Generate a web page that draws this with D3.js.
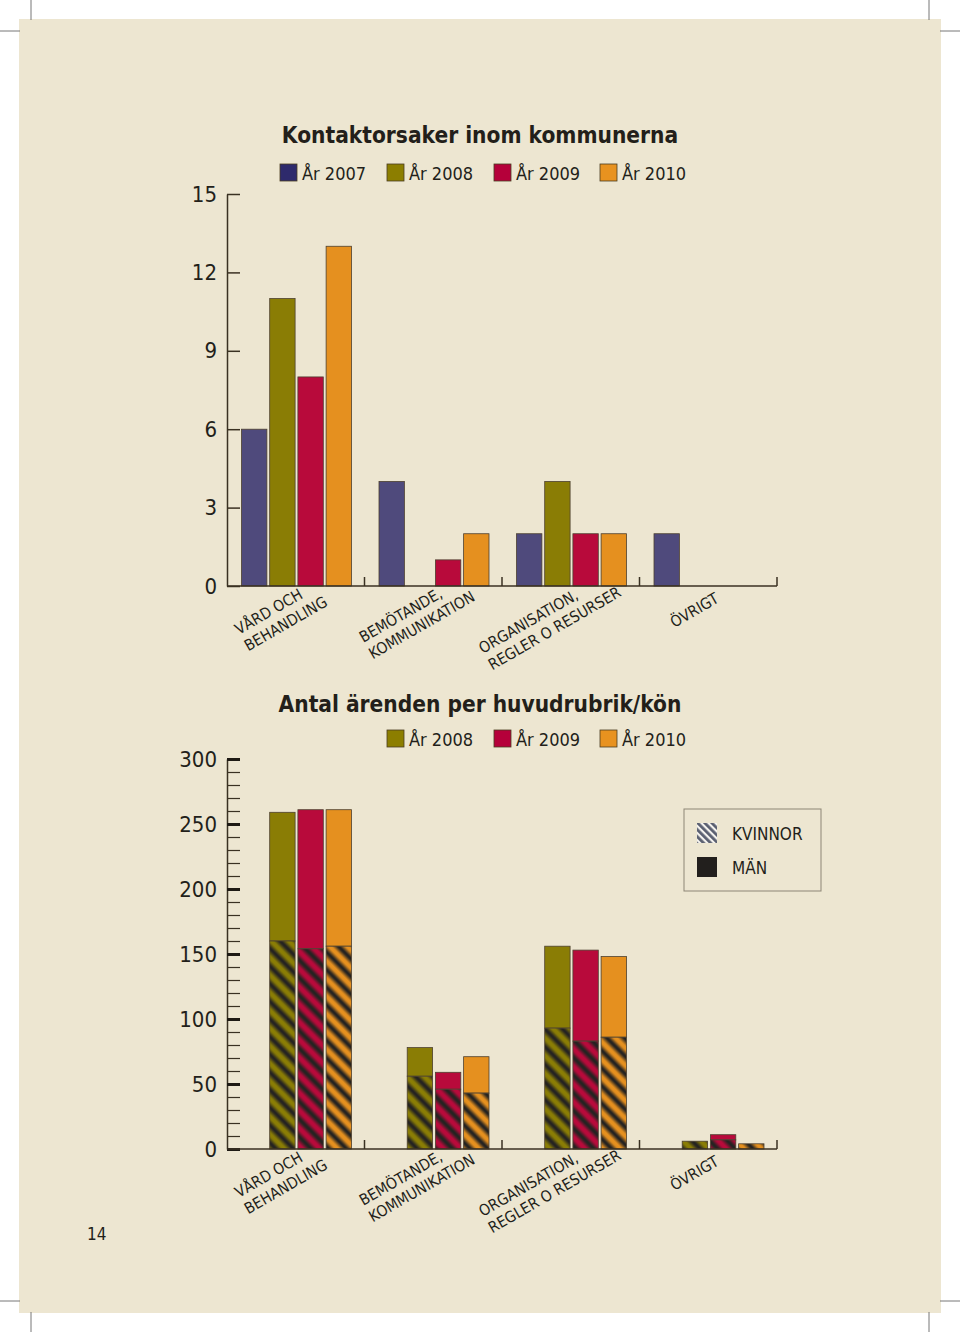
<!DOCTYPE html>
<html>
<head>
<meta charset="utf-8">
<script src="https://cdn.jsdelivr.net/npm/d3@7"></script>
<style>
  body { margin: 0; background: #fff; }
  text { font-family: "DejaVu Sans Condensed", "DejaVu Sans", sans-serif; fill: #231f1a; }
</style>
</head>
<body>
<div id="chart"></div>
<script>
// categories (line breaks as in the labels)
const categories = ["VÅRD OCH\nBEHANDLING", "BEMÖTANDE,\nKOMMUNIKATION", "ORGANISATION,\nREGLER O RESURSER", "ÖVRIGT"]
const years = ["År 2007", "År 2008", "År 2009", "År 2010"]

// Kontaktorsaker inom kommunerna
const contacts2007 = [6, 4, 2, 2]
const contacts2008 = [11, 0, 4, 0]
const contacts2009 = [8, 1, 2, 0]
const contacts2010 = [13, 2, 2, 0]
const topTicks = [0, 3, 6, 9, 12, 15]

// Antal ärenden per huvudrubrik/kön
const genderYears = ["År 2008", "År 2009", "År 2010"]
const women2008 = [160, 56, 93, 6]
const men2008 = [99, 22, 63, 0]
const women2009 = [154, 46, 83, 7]
const men2009 = [107, 13, 70, 4]
const women2010 = [156, 43, 86, 4]
const men2010 = [105, 28, 62, 0]
const bottomTicks = [0, 50, 100, 150, 200, 250, 300]
const genderLegend = ["KVINNOR", "MÄN"]

const COLORS = {"År 2007": "#4f4a7c", "År 2008": "#8a7d05", "År 2009": "#b80a3b", "År 2010": "#e5901f"}
const LEGEND_COLORS = {"År 2007": "#2e2a6c", "År 2008": "#8c7e00", "År 2009": "#b5003a", "År 2010": "#e8921f"}
const BG = "#ede6d1"
const INK = "#3a3122"
// where each rotated label starts, relative to band centre / baseline
const LABEL_OFFSET = [[-57, 49], [-70, 57], [-88, 68], [-34, 42]]

const W = 960, H = 1332
const svg = d3.select("#chart").append("svg").attr("width", W).attr("height", H)

// page + crop marks
svg.append("rect").attr("x", 19).attr("y", 19).attr("width", 922).attr("height", 1294).attr("fill", BG)
const marks = [[31, 0, 31, 20], [0, 31, 20, 31], [929, 0, 929, 20], [940, 31, 960, 31],
               [31, 1312, 31, 1332], [0, 1301, 20, 1301], [929, 1312, 929, 1332], [940, 1301, 960, 1301]]
svg.selectAll(".crop").data(marks).enter().append("line")
    .attr("x1", d => d[0]).attr("y1", d => d[1]).attr("x2", d => d[2]).attr("y2", d => d[3])
    .attr("stroke", "#777").attr("stroke-width", 1)

// hatch patterns
const defs = svg.append("defs")
Object.entries(COLORS).forEach(([yr, c], i) => {
    const gid = "grad" + i
    const g = defs.append("linearGradient").attr("id", gid)
    const dark = "#252321"
    ;[[0, c], [0.22, c], [0.55, dark], [0.68, dark], [0.9, d3.interpolateRgb(c, dark)(0.3)], [1, c]]
        .forEach(s => g.append("stop").attr("offset", s[0]).attr("stop-color", s[1]))
    defs.append("pattern").attr("id", "hatch" + i)
        .attr("patternUnits", "userSpaceOnUse").attr("width", 12.5).attr("height", 12.5)
        .attr("patternTransform", "rotate(-45)")
        .append("rect").attr("width", 12.5).attr("height", 12.5).attr("fill", `url(#${gid})`)
})
const lp = defs.append("pattern").attr("id", "hatchLegend")
    .attr("patternUnits", "userSpaceOnUse").attr("width", 5).attr("height", 5)
    .attr("patternTransform", "rotate(-45)")
lp.append("rect").attr("width", 5).attr("height", 5).attr("fill", "#f4f2ee")
lp.append("rect").attr("width", 2.8).attr("height", 5).attr("fill", "#5a5f70")

const x0 = d3.scaleBand().domain(categories).range([227, 777])
const x1 = d3.scaleBand().domain(years).range([14.5, 124.5]).paddingInner(0.1)

function title(text, y) {
    svg.append("text").attr("x", 480).attr("y", y).attr("text-anchor", "middle")
        .attr("font-size", 22.5).attr("font-weight", "bold").text(text)
}

function legend(items, xs, y) {
    const g = svg.append("g")
    items.forEach((yr, i) => {
        g.append("rect").attr("x", xs[i]).attr("y", y).attr("width", 17).attr("height", 17)
            .attr("fill", LEGEND_COLORS[yr]).attr("stroke", "#4a3c22").attr("stroke-width", 0.8)
        g.append("text").attr("x", xs[i] + 22).attr("y", y + 16).attr("font-size", 18).text(yr)
    })
}

function xAxis(base) {
    svg.append("line").attr("x1", 227).attr("x2", 777).attr("y1", base).attr("y2", base)
        .attr("stroke", INK).attr("stroke-width", 1.5)
    svg.selectAll(null).data(categories).enter().append("line")
        .attr("x1", d => x0(d) + x0.bandwidth()).attr("x2", d => x0(d) + x0.bandwidth())
        .attr("y1", base).attr("y2", base - 9).attr("stroke", INK).attr("stroke-width", 1.5)

    const lab = svg.selectAll(null).data(categories).enter().append("g")
        .attr("transform", (d, i) => `translate(${x0(d) + x0.bandwidth() / 2 + LABEL_OFFSET[i][0]},${base + LABEL_OFFSET[i][1]}) rotate(-30)`)
    lab.each(function (d) {
        d.split("\n").forEach((line, li) => {
            d3.select(this).append("text").attr("y", li * 19).attr("font-size", 15.5).text(line)
        })
    })
}

// ---------- top chart ----------
title("Kontaktorsaker inom kommunerna", 143)
legend(years, [280, 387, 494, 600], 164)

const yTop = d3.scaleLinear().domain([0, 15]).range([586, 194])
const topAxis = svg.append("g").attr("transform", "translate(227,0)")
    .call(d3.axisLeft(yTop).tickValues(topTicks).tickSize(-13).tickSizeOuter(0).tickPadding(10))
topAxis.selectAll("line, path").attr("stroke", INK).attr("stroke-width", 1.5)
topAxis.selectAll("text").attr("font-size", 22).attr("font-family", null).attr("fill", "#231f1a")

const topSeries = [contacts2007, contacts2008, contacts2009, contacts2010]
const topData = []
categories.forEach((c, ci) => years.forEach((yr, yi) => {
    if (topSeries[yi][ci] > 0) topData.push({c, yr, v: topSeries[yi][ci]})
}))
svg.selectAll(".topbar").data(topData).enter().append("rect")
    .attr("x", d => x0(d.c) + x1(d.yr))
    .attr("y", d => yTop(d.v))
    .attr("width", x1.bandwidth())
    .attr("height", d => yTop(0) - yTop(d.v))
    .attr("fill", d => COLORS[d.yr])
    .attr("stroke", "#4d4030").attr("stroke-width", 0.8)
xAxis(586)

// ---------- bottom chart ----------
title("Antal ärenden per huvudrubrik/kön", 712)
legend(genderYears, [387, 494, 600], 730)

const yBot = d3.scaleLinear().domain([0, 300]).range([1149, 759])
const minor = svg.append("g").attr("transform", "translate(227,0)")
    .call(d3.axisLeft(yBot).tickValues(d3.range(0, 301, 10)).tickSize(-13).tickSizeOuter(0).tickFormat(""))
minor.selectAll("line").attr("stroke", INK).attr("stroke-width", 1.2)
minor.select("path").attr("stroke", INK).attr("stroke-width", 1.5)
const major = svg.append("g").attr("transform", "translate(227,0)")
    .call(d3.axisLeft(yBot).tickValues(bottomTicks).tickSize(-13).tickSizeOuter(0).tickPadding(10))
major.select("path").remove()
major.selectAll("line").attr("stroke", "#1e1a14").attr("stroke-width", 3)
major.selectAll("text").attr("font-size", 22).attr("font-family", null).attr("fill", "#231f1a")

const women = [women2008, women2009, women2010]
const men = [men2008, men2009, men2010]
const botData = []
categories.forEach((c, ci) => genderYears.forEach((yr, yi) => {
    botData.push({c, yr, w: women[yi][ci], m: men[yi][ci]})
}))
const bars = svg.selectAll(".botbar").data(botData).enter().append("g")
bars.filter(d => d.m > 0).append("rect")
    .attr("x", d => x0(d.c) + x1(d.yr))
    .attr("y", d => yBot(d.w + d.m))
    .attr("width", x1.bandwidth())
    .attr("height", d => yBot(d.w) - yBot(d.w + d.m))
    .attr("fill", d => COLORS[d.yr])
    .attr("stroke", "#4d4030").attr("stroke-width", 0.8)
bars.append("rect")
    .attr("x", d => x0(d.c) + x1(d.yr))
    .attr("y", d => yBot(d.w))
    .attr("width", x1.bandwidth())
    .attr("height", d => yBot(0) - yBot(d.w))
    .attr("fill", d => `url(#hatch${years.indexOf(d.yr)})`)
    .attr("stroke", "#4d4030").attr("stroke-width", 0.8)
xAxis(1149)

// KVINNOR / MÄN legend
const gl = svg.append("g")
gl.append("rect").attr("x", 684).attr("y", 809).attr("width", 137).attr("height", 82)
    .attr("fill", "none").attr("stroke", "#8d8576").attr("stroke-width", 1)
genderLegend.forEach((t, i) => {
    gl.append("rect").attr("x", 697).attr("y", 823 + i * 34).attr("width", 20).attr("height", 20)
        .attr("fill", i === 0 ? "url(#hatchLegend)" : "#221f1d")
    gl.append("text").attr("x", 732).attr("y", 840 + i * 34).attr("font-size", 17).text(t)
})

// page number
svg.append("text").attr("x", 87).attr("y", 1240).attr("font-size", 17).text("14")
</script>
</body>
</html>
